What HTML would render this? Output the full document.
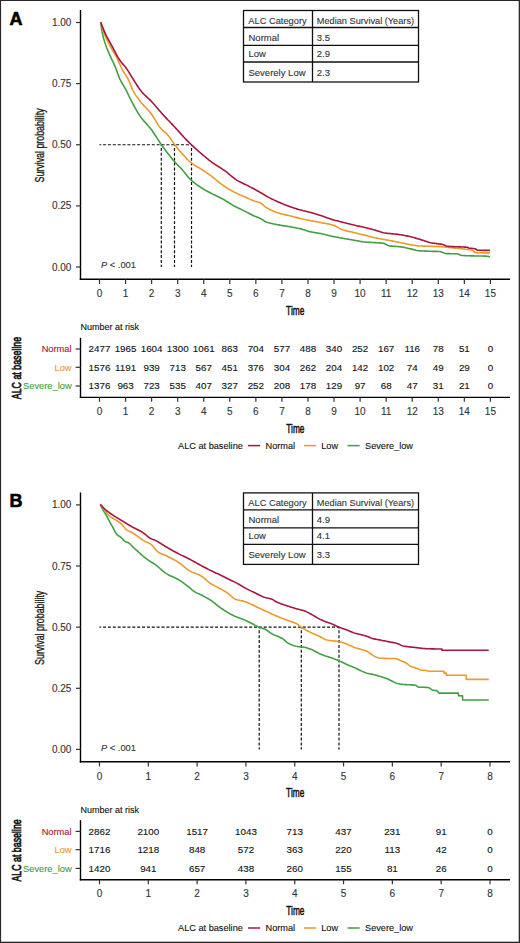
<!DOCTYPE html>
<html><head><meta charset="utf-8"><style>
html,body{margin:0;padding:0;background:#fff;}
body{width:520px;height:943px;overflow:hidden;}
svg{display:block;font-family:"Liberation Sans", sans-serif;}
</style></head><body>
<svg width="520" height="943" viewBox="0 0 520 943">
<rect x="0" y="0" width="520" height="943" fill="#fff"/>
<text x="9.6" y="24.8" font-size="18" font-weight="bold" fill="#000" stroke="#000" stroke-width="0.6">A</text>
<line x1="80.5" y1="10" x2="80.5" y2="280" stroke="#000" stroke-width="1.4"/>
<line x1="79.8" y1="279.3" x2="510" y2="279.3" stroke="#000" stroke-width="1.4"/>
<line x1="76" y1="22.5" x2="80.5" y2="22.5" stroke="#333" stroke-width="1.2"/>
<text x="71.4" y="26" font-size="10" text-anchor="end" fill="#333333" stroke="#333333" stroke-width="0.12">1.00</text>
<line x1="76" y1="83.6" x2="80.5" y2="83.6" stroke="#333" stroke-width="1.2"/>
<text x="71.4" y="87.1" font-size="10" text-anchor="end" fill="#333333" stroke="#333333" stroke-width="0.12">0.75</text>
<line x1="76" y1="144.75" x2="80.5" y2="144.75" stroke="#333" stroke-width="1.2"/>
<text x="71.4" y="148.25" font-size="10" text-anchor="end" fill="#333333" stroke="#333333" stroke-width="0.12">0.50</text>
<line x1="76" y1="205.9" x2="80.5" y2="205.9" stroke="#333" stroke-width="1.2"/>
<text x="71.4" y="209.4" font-size="10" text-anchor="end" fill="#333333" stroke="#333333" stroke-width="0.12">0.25</text>
<line x1="76" y1="267" x2="80.5" y2="267" stroke="#333" stroke-width="1.2"/>
<text x="71.4" y="270.5" font-size="10" text-anchor="end" fill="#333333" stroke="#333333" stroke-width="0.12">0.00</text>
<line x1="99.5" y1="279.3" x2="99.5" y2="284" stroke="#333" stroke-width="1.2"/>
<text x="99.5" y="297.1" font-size="10" text-anchor="middle" fill="#333333" stroke="#333333" stroke-width="0.12">0</text>
<line x1="125.56" y1="279.3" x2="125.56" y2="284" stroke="#333" stroke-width="1.2"/>
<text x="125.56" y="297.1" font-size="10" text-anchor="middle" fill="#333333" stroke="#333333" stroke-width="0.12">1</text>
<line x1="151.62" y1="279.3" x2="151.62" y2="284" stroke="#333" stroke-width="1.2"/>
<text x="151.62" y="297.1" font-size="10" text-anchor="middle" fill="#333333" stroke="#333333" stroke-width="0.12">2</text>
<line x1="177.68" y1="279.3" x2="177.68" y2="284" stroke="#333" stroke-width="1.2"/>
<text x="177.68" y="297.1" font-size="10" text-anchor="middle" fill="#333333" stroke="#333333" stroke-width="0.12">3</text>
<line x1="203.74" y1="279.3" x2="203.74" y2="284" stroke="#333" stroke-width="1.2"/>
<text x="203.74" y="297.1" font-size="10" text-anchor="middle" fill="#333333" stroke="#333333" stroke-width="0.12">4</text>
<line x1="229.8" y1="279.3" x2="229.8" y2="284" stroke="#333" stroke-width="1.2"/>
<text x="229.8" y="297.1" font-size="10" text-anchor="middle" fill="#333333" stroke="#333333" stroke-width="0.12">5</text>
<line x1="255.86" y1="279.3" x2="255.86" y2="284" stroke="#333" stroke-width="1.2"/>
<text x="255.86" y="297.1" font-size="10" text-anchor="middle" fill="#333333" stroke="#333333" stroke-width="0.12">6</text>
<line x1="281.92" y1="279.3" x2="281.92" y2="284" stroke="#333" stroke-width="1.2"/>
<text x="281.92" y="297.1" font-size="10" text-anchor="middle" fill="#333333" stroke="#333333" stroke-width="0.12">7</text>
<line x1="307.98" y1="279.3" x2="307.98" y2="284" stroke="#333" stroke-width="1.2"/>
<text x="307.98" y="297.1" font-size="10" text-anchor="middle" fill="#333333" stroke="#333333" stroke-width="0.12">8</text>
<line x1="334.04" y1="279.3" x2="334.04" y2="284" stroke="#333" stroke-width="1.2"/>
<text x="334.04" y="297.1" font-size="10" text-anchor="middle" fill="#333333" stroke="#333333" stroke-width="0.12">9</text>
<line x1="360.1" y1="279.3" x2="360.1" y2="284" stroke="#333" stroke-width="1.2"/>
<text x="360.1" y="297.1" font-size="10" text-anchor="middle" fill="#333333" stroke="#333333" stroke-width="0.12">10</text>
<line x1="386.16" y1="279.3" x2="386.16" y2="284" stroke="#333" stroke-width="1.2"/>
<text x="386.16" y="297.1" font-size="10" text-anchor="middle" fill="#333333" stroke="#333333" stroke-width="0.12">11</text>
<line x1="412.22" y1="279.3" x2="412.22" y2="284" stroke="#333" stroke-width="1.2"/>
<text x="412.22" y="297.1" font-size="10" text-anchor="middle" fill="#333333" stroke="#333333" stroke-width="0.12">12</text>
<line x1="438.28" y1="279.3" x2="438.28" y2="284" stroke="#333" stroke-width="1.2"/>
<text x="438.28" y="297.1" font-size="10" text-anchor="middle" fill="#333333" stroke="#333333" stroke-width="0.12">13</text>
<line x1="464.34" y1="279.3" x2="464.34" y2="284" stroke="#333" stroke-width="1.2"/>
<text x="464.34" y="297.1" font-size="10" text-anchor="middle" fill="#333333" stroke="#333333" stroke-width="0.12">14</text>
<line x1="490.4" y1="279.3" x2="490.4" y2="284" stroke="#333" stroke-width="1.2"/>
<text x="490.4" y="297.1" font-size="10" text-anchor="middle" fill="#333333" stroke="#333333" stroke-width="0.12">15</text>
<text transform="translate(295.2 314.7) scale(0.64 1)" font-size="13" text-anchor="middle" fill="#111" stroke="#111" stroke-width="0.55">Time</text>
<text transform="translate(43.8 145.4) rotate(-90) scale(0.68 1)" font-size="13" text-anchor="middle" fill="#1a1a1a" stroke="#1a1a1a" stroke-width="0.35">Survival probability</text>
<line x1="99.5" y1="144.75" x2="191.5" y2="144.75" stroke="#111" stroke-width="1.2" stroke-dasharray="3 1.87" stroke-dashoffset="1.3"/>
<line x1="161.3" y1="144.75" x2="161.3" y2="267" stroke="#111" stroke-width="1.2" stroke-dasharray="3 1.87" stroke-dashoffset="1.65"/>
<line x1="174.5" y1="144.75" x2="174.5" y2="267" stroke="#111" stroke-width="1.2" stroke-dasharray="3 1.87" stroke-dashoffset="1.65"/>
<line x1="191.5" y1="144.75" x2="191.5" y2="267" stroke="#111" stroke-width="1.2" stroke-dasharray="3 1.87" stroke-dashoffset="1.65"/>
<path d="M100.7 22.3 L101.7 29.93 L102.7 34.84 L103.7 38.69 L104.7 42 L105.7 45.02 L106.7 47.73 L107.7 50.23 L108.7 52.62 L109.7 54.97 L110.7 57.2 L111.7 59.31 L112.7 61.37 L113.7 63.44 L114.7 65.62 L115.7 67.98 L116.7 70.62 L117.7 73.41 L118.7 76.14 L119.7 78.62 L120.7 80.7 L121.7 82.52 L122.7 84.19 L123.7 85.83 L124.7 87.55 L125.7 89.43 L126.7 91.41 L127.7 93.45 L128.7 95.52 L129.7 97.57 L130.7 99.58 L131.7 101.5 L132.7 103.37 L133.7 105.25 L134.7 107.11 L135.7 108.93 L136.7 110.7 L137.7 112.41 L138.7 114.04 L139.7 115.56 L140.7 116.98 L141.7 118.3 L142.7 119.55 L143.7 120.73 L144.7 121.87 L145.7 122.98 L146.7 124.09 L147.7 125.2 L148.7 126.34 L149.7 127.52 L150.7 128.75 L151.7 130.07 L152.7 131.47 L153.7 132.94 L154.7 134.47 L155.7 136.03 L156.7 137.61 L157.7 139.19 L158.7 140.75 L159.7 142.27 L160.7 143.75 L161.7 145.16 L162.7 146.54 L163.7 147.92 L164.7 149.27 L165.7 150.62 L166.7 151.94 L167.7 153.25 L168.7 154.54 L169.7 155.8 L170.7 157.05 L171.7 158.27 L172.7 159.48 L173.7 160.65 L174.7 161.79 L175.7 162.89 L176.7 163.94 L177.7 164.97 L178.7 165.99 L179.7 167.01 L180.7 168.05 L181.7 169.12 L182.7 170.23 L183.7 171.42 L184.7 172.67 L185.7 173.95 L186.7 175.23 L187.7 176.47 L188.7 177.64 L189.7 178.71 L190.7 179.66 L191.7 180.57 L192.7 181.44 L193.7 182.27 L194.7 183.08 L195.7 183.85 L196.7 184.6 L197.7 185.33 L198.7 186.03 L199.7 186.71 L200.7 187.38 L201.7 188.03 L202.7 188.66 L203.7 189.26 L204.7 189.85 L205.7 190.41 L206.7 190.96 L207.7 191.5 L208.7 192.03 L209.7 192.56 L210.7 193.08 L211.7 193.6 L212.7 194.12 L213.7 194.61 L214.7 195.09 L215.7 195.57 L216.7 196.04 L217.7 196.51 L218.7 196.98 L219.7 197.46 L220.7 197.95 L221.7 198.46 L222.7 198.98 L223.7 199.53 L224.7 200.11 L225.7 200.72 L226.7 201.34 L227.7 201.98 L228.7 202.62 L229.7 203.26 L230.7 203.9 L231.7 204.52 L232.7 205.13 L233.7 205.71 L234.7 206.25 L235.7 206.77 L236.7 207.26 L237.7 207.73 L238.7 208.2 L239.7 208.67 L240.7 209.15 L241.7 209.64 L242.7 210.14 L243.7 210.65 L244.7 211.15 L245.7 211.65 L246.7 212.15 L247.7 212.66 L248.7 213.18 L249.7 213.7 L250.7 214.22 L251.7 214.73 L252.7 215.23 L253.7 215.71 L254.7 216.17 L255.7 216.59 L256.7 216.98 L257.7 217.36 L258.7 217.74 L259.7 218.16 L260.7 218.66 L261.7 219.27 L262.7 219.93 L263.7 220.6 L264.7 221.23 L265.7 221.77 L266.7 222.17 L267.7 222.49 L268.7 222.79 L269.7 223.06 L270.7 223.31 L271.7 223.54 L272.7 223.76 L273.7 223.96 L274.7 224.16 L275.7 224.35 L276.7 224.53 L277.7 224.72 L278.7 224.91 L279.7 225.09 L280.7 225.27 L281.7 225.43 L282.7 225.59 L283.7 225.75 L284.7 225.9 L285.7 226.05 L286.7 226.21 L287.7 226.37 L288.7 226.54 L289.7 226.72 L290.7 226.9 L291.7 227.08 L292.7 227.26 L293.7 227.44 L294.7 227.63 L295.7 227.82 L296.7 228.01 L297.7 228.22 L298.7 228.43 L299.7 228.65 L300.7 228.88 L301.7 229.13 L302.7 229.41 L303.7 229.73 L304.7 230.06 L305.7 230.4 L306.7 230.74 L307.7 231.07 L308.7 231.37 L309.7 231.63 L310.7 231.85 L311.7 232.05 L312.7 232.24 L313.7 232.41 L314.7 232.57 L315.7 232.72 L316.7 232.88 L317.7 233.03 L318.7 233.19 L319.7 233.36 L320.7 233.54 L321.7 233.74 L322.7 233.96 L323.7 234.19 L324.7 234.43 L325.7 234.68 L326.7 234.94 L327.7 235.2 L328.7 235.45 L329.7 235.71 L330.7 235.96 L331.7 236.19 L332.7 236.42 L333.7 236.62 L334.7 236.82 L335.7 237.02 L336.7 237.2 L337.7 237.39 L338.7 237.57 L339.7 237.74 L340.7 237.92 L341.7 238.09 L342.7 238.27 L343.7 238.44 L344.7 238.62 L345.7 238.79 L346.7 238.97 L347.7 239.14 L348.7 239.32 L349.7 239.49 L350.7 239.66 L351.7 239.83 L352.7 240 L353.7 240.17 L354.7 240.34 L355.7 240.51 L356.7 240.69 L357.7 240.88 L358.7 241.07 L359.7 241.27 L360.7 241.47 L361.7 241.65 L362.7 241.82 L363.7 241.96 L364.7 242.07 L365.7 242.15 L366.7 242.22 L367.7 242.28 L368.7 242.33 L369.7 242.38 L370.7 242.42 L371.7 242.46 L372.7 242.5 L373.7 242.55 L374.7 242.6 L375.7 242.65 L376.7 242.71 L377.7 242.78 L378.7 242.84 L379.7 242.91 L380.7 242.98 L381.7 243.08 L382.7 243.19 L383.7 243.34 L384.7 243.68 L385.7 244.21 L386.7 244.82 L387.7 245.38 L388.7 245.79 L389.7 245.97 L390.7 246.08 L391.7 246.17 L392.7 246.24 L393.7 246.3 L394.7 246.36 L395.7 246.41 L396.7 246.46 L397.7 246.53 L398.7 246.61 L399.7 246.71 L400.7 246.84 L401.7 246.99 L402.7 247.16 L403.7 247.35 L404.7 247.55 L405.7 247.77 L406.7 247.99 L407.7 248.22 L408.7 248.45 L409.7 248.67 L410.7 248.89 L411.7 249.11 L412.7 249.36 L413.7 249.63 L414.7 249.9 L415.7 250.17 L416.7 250.41 L417.7 250.61 L418.7 250.75 L419.7 250.84 L420.7 250.9 L421.7 250.96 L422.7 251.01 L423.7 251.05 L424.7 251.09 L425.7 251.13 L426.7 251.16 L427.7 251.19 L428.7 251.22 L429.7 251.25 L430.7 251.28 L431.7 251.31 L432.7 251.33 L433.7 251.35 L434.7 251.37 L435.7 251.39 L436.7 251.41 L437.7 251.43 L438.7 251.46 L439.7 251.51 L440.7 251.67 L441.7 252 L442.7 252.41 L443.7 252.84 L444.7 253.23 L445.7 253.5 L446.7 253.61 L447.7 253.64 L448.7 253.66 L449.7 253.67 L450.7 253.68 L451.7 253.69 L452.7 253.7 L453.7 253.71 L454.7 253.72 L455.7 253.74 L456.7 253.76 L457.7 253.8 L458.7 254.17 L459.7 254.83 L460.7 255.21 L461.7 255.34 L462.7 255.44 L463.7 255.53 L464.7 255.6 L465.7 255.65 L466.7 255.7 L467.7 255.74 L468.7 255.78 L469.7 255.82 L470.7 255.85 L471.7 255.87 L472.7 255.9 L473.7 255.91 L474.7 255.93 L475.7 255.94 L476.7 255.96 L477.7 255.97 L478.7 255.98 L479.7 256 L480.7 256.01 L481.7 256.03 L482.7 256.06 L483.7 256.09 L484.7 256.12 L485.7 256.16 L486.7 256.21 L487.7 256.35 L488.7 256.58 L489.7 256.83 L490 256.9" fill="none" stroke="#40a042" stroke-width="1.6" stroke-linejoin="round"/>
<path d="M100.7 22.3 L101.7 25.86 L102.7 29.18 L103.7 32.13 L104.7 34.71 L105.7 37.07 L106.7 39.26 L107.7 41.34 L108.7 43.33 L109.7 45.29 L110.7 47.15 L111.7 48.89 L112.7 50.57 L113.7 52.21 L114.7 53.88 L115.7 55.61 L116.7 57.43 L117.7 59.42 L118.7 61.63 L119.7 63.96 L120.7 66.26 L121.7 68.41 L122.7 70.3 L123.7 72 L124.7 73.6 L125.7 75.15 L126.7 76.74 L127.7 78.43 L128.7 80.3 L129.7 82.52 L130.7 85.07 L131.7 87.67 L132.7 90 L133.7 91.89 L134.7 93.58 L135.7 95.14 L136.7 96.59 L137.7 97.97 L138.7 99.3 L139.7 100.61 L140.7 101.89 L141.7 103.11 L142.7 104.26 L143.7 105.36 L144.7 106.44 L145.7 107.5 L146.7 108.57 L147.7 109.65 L148.7 110.76 L149.7 111.93 L150.7 113.16 L151.7 114.47 L152.7 115.93 L153.7 117.53 L154.7 119.2 L155.7 120.91 L156.7 122.6 L157.7 124.21 L158.7 125.71 L159.7 127.02 L160.7 128.18 L161.7 129.23 L162.7 130.2 L163.7 131.13 L164.7 132.04 L165.7 132.95 L166.7 133.91 L167.7 134.95 L168.7 136.08 L169.7 137.37 L170.7 138.8 L171.7 140.33 L172.7 141.87 L173.7 143.36 L174.7 144.73 L175.7 146.02 L176.7 147.28 L177.7 148.51 L178.7 149.71 L179.7 150.89 L180.7 152.05 L181.7 153.19 L182.7 154.31 L183.7 155.41 L184.7 156.49 L185.7 157.57 L186.7 158.63 L187.7 159.7 L188.7 160.72 L189.7 161.65 L190.7 162.46 L191.7 163.21 L192.7 163.92 L193.7 164.58 L194.7 165.22 L195.7 165.84 L196.7 166.44 L197.7 167.04 L198.7 167.64 L199.7 168.25 L200.7 168.88 L201.7 169.53 L202.7 170.2 L203.7 170.86 L204.7 171.52 L205.7 172.18 L206.7 172.85 L207.7 173.53 L208.7 174.21 L209.7 174.91 L210.7 175.62 L211.7 176.35 L212.7 177.1 L213.7 177.89 L214.7 178.7 L215.7 179.53 L216.7 180.37 L217.7 181.2 L218.7 182.03 L219.7 182.85 L220.7 183.64 L221.7 184.4 L222.7 185.12 L223.7 185.81 L224.7 186.48 L225.7 187.13 L226.7 187.77 L227.7 188.39 L228.7 189 L229.7 189.6 L230.7 190.18 L231.7 190.75 L232.7 191.3 L233.7 191.83 L234.7 192.35 L235.7 192.85 L236.7 193.34 L237.7 193.8 L238.7 194.26 L239.7 194.7 L240.7 195.14 L241.7 195.57 L242.7 195.99 L243.7 196.42 L244.7 196.85 L245.7 197.28 L246.7 197.72 L247.7 198.18 L248.7 198.65 L249.7 199.12 L250.7 199.58 L251.7 200.03 L252.7 200.45 L253.7 200.85 L254.7 201.2 L255.7 201.5 L256.7 201.74 L257.7 201.96 L258.7 202.21 L259.7 202.54 L260.7 203.06 L261.7 203.78 L262.7 204.62 L263.7 205.51 L264.7 206.39 L265.7 207.18 L266.7 207.81 L267.7 208.37 L268.7 208.91 L269.7 209.43 L270.7 209.92 L271.7 210.39 L272.7 210.84 L273.7 211.27 L274.7 211.68 L275.7 212.06 L276.7 212.43 L277.7 212.77 L278.7 213.09 L279.7 213.39 L280.7 213.67 L281.7 213.93 L282.7 214.18 L283.7 214.42 L284.7 214.65 L285.7 214.88 L286.7 215.11 L287.7 215.34 L288.7 215.58 L289.7 215.83 L290.7 216.08 L291.7 216.33 L292.7 216.59 L293.7 216.84 L294.7 217.1 L295.7 217.36 L296.7 217.61 L297.7 217.86 L298.7 218.1 L299.7 218.35 L300.7 218.58 L301.7 218.82 L302.7 219.04 L303.7 219.27 L304.7 219.49 L305.7 219.71 L306.7 219.92 L307.7 220.13 L308.7 220.34 L309.7 220.54 L310.7 220.74 L311.7 220.93 L312.7 221.11 L313.7 221.29 L314.7 221.47 L315.7 221.64 L316.7 221.82 L317.7 221.99 L318.7 222.17 L319.7 222.36 L320.7 222.54 L321.7 222.74 L322.7 222.93 L323.7 223.12 L324.7 223.3 L325.7 223.49 L326.7 223.68 L327.7 223.88 L328.7 224.09 L329.7 224.31 L330.7 224.55 L331.7 224.8 L332.7 225.08 L333.7 225.4 L334.7 225.8 L335.7 226.28 L336.7 226.81 L337.7 227.36 L338.7 227.92 L339.7 228.45 L340.7 228.95 L341.7 229.38 L342.7 229.73 L343.7 230.05 L344.7 230.35 L345.7 230.63 L346.7 230.89 L347.7 231.14 L348.7 231.38 L349.7 231.61 L350.7 231.84 L351.7 232.07 L352.7 232.29 L353.7 232.51 L354.7 232.74 L355.7 232.98 L356.7 233.22 L357.7 233.46 L358.7 233.7 L359.7 233.94 L360.7 234.17 L361.7 234.41 L362.7 234.65 L363.7 234.88 L364.7 235.13 L365.7 235.37 L366.7 235.63 L367.7 235.89 L368.7 236.15 L369.7 236.42 L370.7 236.69 L371.7 236.95 L372.7 237.21 L373.7 237.46 L374.7 237.7 L375.7 237.93 L376.7 238.14 L377.7 238.34 L378.7 238.54 L379.7 238.72 L380.7 238.9 L381.7 239.08 L382.7 239.25 L383.7 239.42 L384.7 239.59 L385.7 239.76 L386.7 239.94 L387.7 240.12 L388.7 240.31 L389.7 240.51 L390.7 240.7 L391.7 240.9 L392.7 241.1 L393.7 241.31 L394.7 241.51 L395.7 241.71 L396.7 241.92 L397.7 242.12 L398.7 242.32 L399.7 242.52 L400.7 242.72 L401.7 242.93 L402.7 243.14 L403.7 243.35 L404.7 243.56 L405.7 243.77 L406.7 243.97 L407.7 244.17 L408.7 244.36 L409.7 244.55 L410.7 244.72 L411.7 244.88 L412.7 245.05 L413.7 245.22 L414.7 245.38 L415.7 245.54 L416.7 245.69 L417.7 245.81 L418.7 245.91 L419.7 245.98 L420.7 246.03 L421.7 246.07 L422.7 246.1 L423.7 246.12 L424.7 246.14 L425.7 246.16 L426.7 246.18 L427.7 246.2 L428.7 246.22 L429.7 246.25 L430.7 246.27 L431.7 246.31 L432.7 246.34 L433.7 246.38 L434.7 246.43 L435.7 246.47 L436.7 246.52 L437.7 246.57 L438.7 246.63 L439.7 246.68 L440.7 246.74 L441.7 246.81 L442.7 246.87 L443.7 246.94 L444.7 247.02 L445.7 247.12 L446.7 247.21 L447.7 247.32 L448.7 247.43 L449.7 247.54 L450.7 247.66 L451.7 247.77 L452.7 247.89 L453.7 248 L454.7 248.11 L455.7 248.21 L456.7 248.31 L457.7 248.4 L458.7 248.5 L459.7 248.59 L460.7 248.68 L461.7 248.77 L462.7 248.87 L463.7 248.97 L464.7 249.08 L465.7 249.2 L466.7 249.33 L467.7 249.47 L468.7 249.62 L469.7 249.78 L470.7 249.97 L471.7 250.21 L472.7 250.54 L473.7 251.27 L474.7 252.48 L475.7 252.64 L476.7 252.68 L477.7 252.72 L478.7 252.76 L479.7 252.79 L480.7 252.81 L481.7 252.83 L482.7 252.85 L483.7 252.87 L484.7 252.88 L485.7 252.89 L486.7 252.89 L487.7 252.9 L488.7 252.9 L489.7 252.9 L490 252.9" fill="none" stroke="#eb9a2c" stroke-width="1.6" stroke-linejoin="round"/>
<path d="M100.7 22.3 L101.7 24.89 L102.7 27.4 L103.7 29.82 L104.7 32.12 L105.7 34.3 L106.7 36.35 L107.7 38.28 L108.7 40.13 L109.7 41.94 L110.7 43.72 L111.7 45.52 L112.7 47.36 L113.7 49.27 L114.7 51.21 L115.7 53.15 L116.7 55.04 L117.7 56.84 L118.7 58.52 L119.7 60.04 L120.7 61.41 L121.7 62.68 L122.7 63.88 L123.7 65.06 L124.7 66.26 L125.7 67.51 L126.7 68.86 L127.7 70.32 L128.7 71.87 L129.7 73.49 L130.7 75.14 L131.7 76.79 L132.7 78.42 L133.7 80 L134.7 81.56 L135.7 83.15 L136.7 84.74 L137.7 86.3 L138.7 87.81 L139.7 89.24 L140.7 90.58 L141.7 91.79 L142.7 92.92 L143.7 93.97 L144.7 94.97 L145.7 95.93 L146.7 96.86 L147.7 97.79 L148.7 98.72 L149.7 99.67 L150.7 100.67 L151.7 101.71 L152.7 102.8 L153.7 103.92 L154.7 105.07 L155.7 106.23 L156.7 107.4 L157.7 108.58 L158.7 109.76 L159.7 110.93 L160.7 112.09 L161.7 113.24 L162.7 114.36 L163.7 115.45 L164.7 116.53 L165.7 117.6 L166.7 118.65 L167.7 119.69 L168.7 120.73 L169.7 121.76 L170.7 122.8 L171.7 123.84 L172.7 124.89 L173.7 125.94 L174.7 127.01 L175.7 128.09 L176.7 129.19 L177.7 130.3 L178.7 131.41 L179.7 132.53 L180.7 133.65 L181.7 134.76 L182.7 135.87 L183.7 136.96 L184.7 138.03 L185.7 139.08 L186.7 140.11 L187.7 141.12 L188.7 142.1 L189.7 143.07 L190.7 144.03 L191.7 144.98 L192.7 145.92 L193.7 146.85 L194.7 147.77 L195.7 148.68 L196.7 149.59 L197.7 150.49 L198.7 151.37 L199.7 152.25 L200.7 153.12 L201.7 153.97 L202.7 154.82 L203.7 155.66 L204.7 156.5 L205.7 157.33 L206.7 158.15 L207.7 158.96 L208.7 159.76 L209.7 160.55 L210.7 161.32 L211.7 162.07 L212.7 162.81 L213.7 163.53 L214.7 164.21 L215.7 164.87 L216.7 165.52 L217.7 166.15 L218.7 166.77 L219.7 167.39 L220.7 168.02 L221.7 168.65 L222.7 169.3 L223.7 169.97 L224.7 170.67 L225.7 171.41 L226.7 172.19 L227.7 173 L228.7 173.83 L229.7 174.67 L230.7 175.51 L231.7 176.35 L232.7 177.17 L233.7 177.96 L234.7 178.72 L235.7 179.42 L236.7 180.08 L237.7 180.67 L238.7 181.23 L239.7 181.76 L240.7 182.27 L241.7 182.75 L242.7 183.22 L243.7 183.69 L244.7 184.15 L245.7 184.62 L246.7 185.1 L247.7 185.59 L248.7 186.1 L249.7 186.63 L250.7 187.16 L251.7 187.69 L252.7 188.23 L253.7 188.77 L254.7 189.32 L255.7 189.87 L256.7 190.43 L257.7 190.99 L258.7 191.56 L259.7 192.13 L260.7 192.71 L261.7 193.31 L262.7 193.93 L263.7 194.55 L264.7 195.16 L265.7 195.75 L266.7 196.31 L267.7 196.85 L268.7 197.38 L269.7 197.9 L270.7 198.41 L271.7 198.91 L272.7 199.4 L273.7 199.88 L274.7 200.35 L275.7 200.82 L276.7 201.27 L277.7 201.72 L278.7 202.16 L279.7 202.6 L280.7 203.02 L281.7 203.44 L282.7 203.86 L283.7 204.26 L284.7 204.66 L285.7 205.05 L286.7 205.44 L287.7 205.81 L288.7 206.18 L289.7 206.54 L290.7 206.89 L291.7 207.24 L292.7 207.58 L293.7 207.91 L294.7 208.24 L295.7 208.57 L296.7 208.88 L297.7 209.19 L298.7 209.49 L299.7 209.78 L300.7 210.06 L301.7 210.33 L302.7 210.59 L303.7 210.82 L304.7 211.05 L305.7 211.28 L306.7 211.5 L307.7 211.73 L308.7 211.97 L309.7 212.22 L310.7 212.49 L311.7 212.77 L312.7 213.05 L313.7 213.35 L314.7 213.65 L315.7 213.95 L316.7 214.26 L317.7 214.58 L318.7 214.9 L319.7 215.22 L320.7 215.54 L321.7 215.86 L322.7 216.2 L323.7 216.55 L324.7 216.9 L325.7 217.26 L326.7 217.63 L327.7 217.99 L328.7 218.35 L329.7 218.7 L330.7 219.04 L331.7 219.37 L332.7 219.68 L333.7 219.97 L334.7 220.25 L335.7 220.52 L336.7 220.78 L337.7 221.03 L338.7 221.27 L339.7 221.51 L340.7 221.75 L341.7 221.99 L342.7 222.23 L343.7 222.48 L344.7 222.73 L345.7 222.98 L346.7 223.23 L347.7 223.49 L348.7 223.74 L349.7 224 L350.7 224.26 L351.7 224.51 L352.7 224.76 L353.7 225 L354.7 225.25 L355.7 225.48 L356.7 225.71 L357.7 225.93 L358.7 226.15 L359.7 226.36 L360.7 226.56 L361.7 226.77 L362.7 226.98 L363.7 227.2 L364.7 227.43 L365.7 227.67 L366.7 227.92 L367.7 228.18 L368.7 228.44 L369.7 228.71 L370.7 228.98 L371.7 229.26 L372.7 229.54 L373.7 229.82 L374.7 230.1 L375.7 230.38 L376.7 230.66 L377.7 230.95 L378.7 231.27 L379.7 231.59 L380.7 231.91 L381.7 232.21 L382.7 232.49 L383.7 232.73 L384.7 232.92 L385.7 233.08 L386.7 233.22 L387.7 233.34 L388.7 233.46 L389.7 233.56 L390.7 233.66 L391.7 233.76 L392.7 233.85 L393.7 233.94 L394.7 234.03 L395.7 234.13 L396.7 234.24 L397.7 234.35 L398.7 234.47 L399.7 234.61 L400.7 234.77 L401.7 234.93 L402.7 235.1 L403.7 235.29 L404.7 235.48 L405.7 235.68 L406.7 235.89 L407.7 236.1 L408.7 236.32 L409.7 236.55 L410.7 236.78 L411.7 237.02 L412.7 237.27 L413.7 237.54 L414.7 237.82 L415.7 238.12 L416.7 238.41 L417.7 238.71 L418.7 239.01 L419.7 239.31 L420.7 239.61 L421.7 239.93 L422.7 240.26 L423.7 240.59 L424.7 240.93 L425.7 241.27 L426.7 241.6 L427.7 241.92 L428.7 242.21 L429.7 242.49 L430.7 242.73 L431.7 242.94 L432.7 243.12 L433.7 243.27 L434.7 243.41 L435.7 243.53 L436.7 243.64 L437.7 243.76 L438.7 243.88 L439.7 244.01 L440.7 244.15 L441.7 244.32 L442.7 244.51 L443.7 244.77 L444.7 245.19 L445.7 245.66 L446.7 246.07 L447.7 246.3 L448.7 246.39 L449.7 246.47 L450.7 246.52 L451.7 246.57 L452.7 246.61 L453.7 246.66 L454.7 246.71 L455.7 246.75 L456.7 246.79 L457.7 246.82 L458.7 246.85 L459.7 246.88 L460.7 246.91 L461.7 246.94 L462.7 246.98 L463.7 247.03 L464.7 247.08 L465.7 247.15 L466.7 247.24 L467.7 247.4 L468.7 247.92 L469.7 248.19 L470.7 248.31 L471.7 248.4 L472.7 248.47 L473.7 248.56 L474.7 248.69 L475.7 249.04 L476.7 249.7 L477.7 250.18 L478.7 250.23 L479.7 250.26 L480.7 250.29 L481.7 250.32 L482.7 250.34 L483.7 250.36 L484.7 250.37 L485.7 250.38 L486.7 250.39 L487.7 250.4 L488.7 250.4 L489.7 250.4 L490 250.4" fill="none" stroke="#a8163c" stroke-width="1.6" stroke-linejoin="round"/>
<text x="101" y="268.2" font-size="9.3" fill="#333333" stroke="#333333" stroke-width="0.12"><tspan font-style="italic">P</tspan> &lt; .001</text>
<rect x="243.5" y="10.5" width="175" height="71.5" fill="#fff" stroke="#111" stroke-width="1.3"/>
<line x1="243.5" y1="27.5" x2="418.5" y2="27.5" stroke="#111" stroke-width="1.3"/>
<line x1="243.5" y1="45.4" x2="418.5" y2="45.4" stroke="#111" stroke-width="1.3"/>
<line x1="243.5" y1="62" x2="418.5" y2="62" stroke="#111" stroke-width="1.3"/>
<line x1="312.5" y1="10.5" x2="312.5" y2="82" stroke="#111" stroke-width="1.3"/>
<text transform="translate(248.3 23.8) scale(0.94 1)" font-size="9.9" fill="#333333" stroke="#333333" stroke-width="0.12">ALC Category</text>
<text transform="translate(316.8 23.8) scale(0.93 1)" font-size="9.9" fill="#333333" stroke="#333333" stroke-width="0.12">Median Survival (Years)</text>
<text x="248.5" y="40.5" font-size="9.5" fill="#333333" stroke="#333333" stroke-width="0.12">Normal</text>
<text x="316.8" y="40.5" font-size="9.5" fill="#333333" stroke="#333333" stroke-width="0.12">3.5</text>
<text x="248.5" y="56.6" font-size="9.5" fill="#333333" stroke="#333333" stroke-width="0.12">Low</text>
<text x="316.8" y="56.6" font-size="9.5" fill="#333333" stroke="#333333" stroke-width="0.12">2.9</text>
<text x="248.5" y="75.9" font-size="9.5" fill="#333333" stroke="#333333" stroke-width="0.12">Severely Low</text>
<text x="316.8" y="75.9" font-size="9.5" fill="#333333" stroke="#333333" stroke-width="0.12">2.3</text>
<text x="80.6" y="330.4" font-size="9" fill="#111" stroke="#111" stroke-width="0.12">Number at risk</text>
<line x1="80.5" y1="337.8" x2="80.5" y2="398" stroke="#000" stroke-width="1.4"/>
<line x1="79.8" y1="397.4" x2="510" y2="397.4" stroke="#000" stroke-width="1.4"/>
<line x1="75.6" y1="349" x2="80.5" y2="349" stroke="#333" stroke-width="1.2"/>
<text x="71.6" y="352.2" font-size="9.3" text-anchor="end" fill="#a8163c" stroke="#a8163c" stroke-width="0.12">Normal</text>
<text x="99.5" y="352.3" font-size="9.8" text-anchor="middle" fill="#111" stroke="#111" stroke-width="0.12">2477</text>
<text x="125.56" y="352.3" font-size="9.8" text-anchor="middle" fill="#111" stroke="#111" stroke-width="0.12">1965</text>
<text x="151.62" y="352.3" font-size="9.8" text-anchor="middle" fill="#111" stroke="#111" stroke-width="0.12">1604</text>
<text x="177.68" y="352.3" font-size="9.8" text-anchor="middle" fill="#111" stroke="#111" stroke-width="0.12">1300</text>
<text x="203.74" y="352.3" font-size="9.8" text-anchor="middle" fill="#111" stroke="#111" stroke-width="0.12">1061</text>
<text x="229.8" y="352.3" font-size="9.8" text-anchor="middle" fill="#111" stroke="#111" stroke-width="0.12">863</text>
<text x="255.86" y="352.3" font-size="9.8" text-anchor="middle" fill="#111" stroke="#111" stroke-width="0.12">704</text>
<text x="281.92" y="352.3" font-size="9.8" text-anchor="middle" fill="#111" stroke="#111" stroke-width="0.12">577</text>
<text x="307.98" y="352.3" font-size="9.8" text-anchor="middle" fill="#111" stroke="#111" stroke-width="0.12">488</text>
<text x="334.04" y="352.3" font-size="9.8" text-anchor="middle" fill="#111" stroke="#111" stroke-width="0.12">340</text>
<text x="360.1" y="352.3" font-size="9.8" text-anchor="middle" fill="#111" stroke="#111" stroke-width="0.12">252</text>
<text x="386.16" y="352.3" font-size="9.8" text-anchor="middle" fill="#111" stroke="#111" stroke-width="0.12">167</text>
<text x="412.22" y="352.3" font-size="9.8" text-anchor="middle" fill="#111" stroke="#111" stroke-width="0.12">116</text>
<text x="438.28" y="352.3" font-size="9.8" text-anchor="middle" fill="#111" stroke="#111" stroke-width="0.12">78</text>
<text x="464.34" y="352.3" font-size="9.8" text-anchor="middle" fill="#111" stroke="#111" stroke-width="0.12">51</text>
<text x="490.4" y="352.3" font-size="9.8" text-anchor="middle" fill="#111" stroke="#111" stroke-width="0.12">0</text>
<line x1="75.6" y1="367.3" x2="80.5" y2="367.3" stroke="#333" stroke-width="1.2"/>
<text x="71.6" y="370.5" font-size="9.3" text-anchor="end" fill="#eb9a2c" stroke="#eb9a2c" stroke-width="0.12">Low</text>
<text x="99.5" y="370.6" font-size="9.8" text-anchor="middle" fill="#111" stroke="#111" stroke-width="0.12">1576</text>
<text x="125.56" y="370.6" font-size="9.8" text-anchor="middle" fill="#111" stroke="#111" stroke-width="0.12">1191</text>
<text x="151.62" y="370.6" font-size="9.8" text-anchor="middle" fill="#111" stroke="#111" stroke-width="0.12">939</text>
<text x="177.68" y="370.6" font-size="9.8" text-anchor="middle" fill="#111" stroke="#111" stroke-width="0.12">713</text>
<text x="203.74" y="370.6" font-size="9.8" text-anchor="middle" fill="#111" stroke="#111" stroke-width="0.12">567</text>
<text x="229.8" y="370.6" font-size="9.8" text-anchor="middle" fill="#111" stroke="#111" stroke-width="0.12">451</text>
<text x="255.86" y="370.6" font-size="9.8" text-anchor="middle" fill="#111" stroke="#111" stroke-width="0.12">376</text>
<text x="281.92" y="370.6" font-size="9.8" text-anchor="middle" fill="#111" stroke="#111" stroke-width="0.12">304</text>
<text x="307.98" y="370.6" font-size="9.8" text-anchor="middle" fill="#111" stroke="#111" stroke-width="0.12">262</text>
<text x="334.04" y="370.6" font-size="9.8" text-anchor="middle" fill="#111" stroke="#111" stroke-width="0.12">204</text>
<text x="360.1" y="370.6" font-size="9.8" text-anchor="middle" fill="#111" stroke="#111" stroke-width="0.12">142</text>
<text x="386.16" y="370.6" font-size="9.8" text-anchor="middle" fill="#111" stroke="#111" stroke-width="0.12">102</text>
<text x="412.22" y="370.6" font-size="9.8" text-anchor="middle" fill="#111" stroke="#111" stroke-width="0.12">74</text>
<text x="438.28" y="370.6" font-size="9.8" text-anchor="middle" fill="#111" stroke="#111" stroke-width="0.12">49</text>
<text x="464.34" y="370.6" font-size="9.8" text-anchor="middle" fill="#111" stroke="#111" stroke-width="0.12">29</text>
<text x="490.4" y="370.6" font-size="9.8" text-anchor="middle" fill="#111" stroke="#111" stroke-width="0.12">0</text>
<line x1="75.6" y1="386" x2="80.5" y2="386" stroke="#333" stroke-width="1.2"/>
<text x="71.6" y="389.2" font-size="9.3" text-anchor="end" fill="#40a042" stroke="#40a042" stroke-width="0.12">Severe_low</text>
<text x="99.5" y="389.3" font-size="9.8" text-anchor="middle" fill="#111" stroke="#111" stroke-width="0.12">1376</text>
<text x="125.56" y="389.3" font-size="9.8" text-anchor="middle" fill="#111" stroke="#111" stroke-width="0.12">963</text>
<text x="151.62" y="389.3" font-size="9.8" text-anchor="middle" fill="#111" stroke="#111" stroke-width="0.12">723</text>
<text x="177.68" y="389.3" font-size="9.8" text-anchor="middle" fill="#111" stroke="#111" stroke-width="0.12">535</text>
<text x="203.74" y="389.3" font-size="9.8" text-anchor="middle" fill="#111" stroke="#111" stroke-width="0.12">407</text>
<text x="229.8" y="389.3" font-size="9.8" text-anchor="middle" fill="#111" stroke="#111" stroke-width="0.12">327</text>
<text x="255.86" y="389.3" font-size="9.8" text-anchor="middle" fill="#111" stroke="#111" stroke-width="0.12">252</text>
<text x="281.92" y="389.3" font-size="9.8" text-anchor="middle" fill="#111" stroke="#111" stroke-width="0.12">208</text>
<text x="307.98" y="389.3" font-size="9.8" text-anchor="middle" fill="#111" stroke="#111" stroke-width="0.12">178</text>
<text x="334.04" y="389.3" font-size="9.8" text-anchor="middle" fill="#111" stroke="#111" stroke-width="0.12">129</text>
<text x="360.1" y="389.3" font-size="9.8" text-anchor="middle" fill="#111" stroke="#111" stroke-width="0.12">97</text>
<text x="386.16" y="389.3" font-size="9.8" text-anchor="middle" fill="#111" stroke="#111" stroke-width="0.12">68</text>
<text x="412.22" y="389.3" font-size="9.8" text-anchor="middle" fill="#111" stroke="#111" stroke-width="0.12">47</text>
<text x="438.28" y="389.3" font-size="9.8" text-anchor="middle" fill="#111" stroke="#111" stroke-width="0.12">31</text>
<text x="464.34" y="389.3" font-size="9.8" text-anchor="middle" fill="#111" stroke="#111" stroke-width="0.12">21</text>
<text x="490.4" y="389.3" font-size="9.8" text-anchor="middle" fill="#111" stroke="#111" stroke-width="0.12">0</text>
<line x1="99.5" y1="397.4" x2="99.5" y2="401.8" stroke="#333" stroke-width="1.2"/>
<text x="99.5" y="414.9" font-size="10" text-anchor="middle" fill="#333333" stroke="#333333" stroke-width="0.12">0</text>
<line x1="125.56" y1="397.4" x2="125.56" y2="401.8" stroke="#333" stroke-width="1.2"/>
<text x="125.56" y="414.9" font-size="10" text-anchor="middle" fill="#333333" stroke="#333333" stroke-width="0.12">1</text>
<line x1="151.62" y1="397.4" x2="151.62" y2="401.8" stroke="#333" stroke-width="1.2"/>
<text x="151.62" y="414.9" font-size="10" text-anchor="middle" fill="#333333" stroke="#333333" stroke-width="0.12">2</text>
<line x1="177.68" y1="397.4" x2="177.68" y2="401.8" stroke="#333" stroke-width="1.2"/>
<text x="177.68" y="414.9" font-size="10" text-anchor="middle" fill="#333333" stroke="#333333" stroke-width="0.12">3</text>
<line x1="203.74" y1="397.4" x2="203.74" y2="401.8" stroke="#333" stroke-width="1.2"/>
<text x="203.74" y="414.9" font-size="10" text-anchor="middle" fill="#333333" stroke="#333333" stroke-width="0.12">4</text>
<line x1="229.8" y1="397.4" x2="229.8" y2="401.8" stroke="#333" stroke-width="1.2"/>
<text x="229.8" y="414.9" font-size="10" text-anchor="middle" fill="#333333" stroke="#333333" stroke-width="0.12">5</text>
<line x1="255.86" y1="397.4" x2="255.86" y2="401.8" stroke="#333" stroke-width="1.2"/>
<text x="255.86" y="414.9" font-size="10" text-anchor="middle" fill="#333333" stroke="#333333" stroke-width="0.12">6</text>
<line x1="281.92" y1="397.4" x2="281.92" y2="401.8" stroke="#333" stroke-width="1.2"/>
<text x="281.92" y="414.9" font-size="10" text-anchor="middle" fill="#333333" stroke="#333333" stroke-width="0.12">7</text>
<line x1="307.98" y1="397.4" x2="307.98" y2="401.8" stroke="#333" stroke-width="1.2"/>
<text x="307.98" y="414.9" font-size="10" text-anchor="middle" fill="#333333" stroke="#333333" stroke-width="0.12">8</text>
<line x1="334.04" y1="397.4" x2="334.04" y2="401.8" stroke="#333" stroke-width="1.2"/>
<text x="334.04" y="414.9" font-size="10" text-anchor="middle" fill="#333333" stroke="#333333" stroke-width="0.12">9</text>
<line x1="360.1" y1="397.4" x2="360.1" y2="401.8" stroke="#333" stroke-width="1.2"/>
<text x="360.1" y="414.9" font-size="10" text-anchor="middle" fill="#333333" stroke="#333333" stroke-width="0.12">10</text>
<line x1="386.16" y1="397.4" x2="386.16" y2="401.8" stroke="#333" stroke-width="1.2"/>
<text x="386.16" y="414.9" font-size="10" text-anchor="middle" fill="#333333" stroke="#333333" stroke-width="0.12">11</text>
<line x1="412.22" y1="397.4" x2="412.22" y2="401.8" stroke="#333" stroke-width="1.2"/>
<text x="412.22" y="414.9" font-size="10" text-anchor="middle" fill="#333333" stroke="#333333" stroke-width="0.12">12</text>
<line x1="438.28" y1="397.4" x2="438.28" y2="401.8" stroke="#333" stroke-width="1.2"/>
<text x="438.28" y="414.9" font-size="10" text-anchor="middle" fill="#333333" stroke="#333333" stroke-width="0.12">13</text>
<line x1="464.34" y1="397.4" x2="464.34" y2="401.8" stroke="#333" stroke-width="1.2"/>
<text x="464.34" y="414.9" font-size="10" text-anchor="middle" fill="#333333" stroke="#333333" stroke-width="0.12">14</text>
<line x1="490.4" y1="397.4" x2="490.4" y2="401.8" stroke="#333" stroke-width="1.2"/>
<text x="490.4" y="414.9" font-size="10" text-anchor="middle" fill="#333333" stroke="#333333" stroke-width="0.12">15</text>
<text transform="translate(295.4 432.5) scale(0.64 1)" font-size="13" text-anchor="middle" fill="#111" stroke="#111" stroke-width="0.55">Time</text>
<text transform="translate(20.8 368) rotate(-90) scale(0.68 1)" font-size="13" text-anchor="middle" fill="#111" stroke="#111" stroke-width="0.7">ALC at baseline</text>
<text x="178" y="448.8" font-size="9.2" fill="#111" stroke="#111" stroke-width="0.12">ALC at baseline</text>
<line x1="248" y1="445.6" x2="260.2" y2="445.6" stroke="#a8163c" stroke-width="1.5"/>
<text x="265.5" y="448.8" font-size="9.2" fill="#111" stroke="#111" stroke-width="0.12">Normal</text>
<line x1="304" y1="445.6" x2="316.2" y2="445.6" stroke="#eb9a2c" stroke-width="1.5"/>
<text x="321.2" y="448.8" font-size="9.2" fill="#111" stroke="#111" stroke-width="0.12">Low</text>
<line x1="347.5" y1="445.6" x2="359.7" y2="445.6" stroke="#40a042" stroke-width="1.5"/>
<text x="365" y="448.8" font-size="9.2" fill="#111" stroke="#111" stroke-width="0.12">Severe_low</text>
<text x="9.6" y="507.2" font-size="18" font-weight="bold" fill="#000" stroke="#000" stroke-width="0.6">B</text>
<line x1="80.5" y1="492.4" x2="80.5" y2="762.4" stroke="#000" stroke-width="1.4"/>
<line x1="79.8" y1="761.7" x2="510" y2="761.7" stroke="#000" stroke-width="1.4"/>
<line x1="76" y1="504.9" x2="80.5" y2="504.9" stroke="#333" stroke-width="1.2"/>
<text x="71.4" y="508.4" font-size="10" text-anchor="end" fill="#333333" stroke="#333333" stroke-width="0.12">1.00</text>
<line x1="76" y1="566" x2="80.5" y2="566" stroke="#333" stroke-width="1.2"/>
<text x="71.4" y="569.5" font-size="10" text-anchor="end" fill="#333333" stroke="#333333" stroke-width="0.12">0.75</text>
<line x1="76" y1="627.15" x2="80.5" y2="627.15" stroke="#333" stroke-width="1.2"/>
<text x="71.4" y="630.65" font-size="10" text-anchor="end" fill="#333333" stroke="#333333" stroke-width="0.12">0.50</text>
<line x1="76" y1="688.3" x2="80.5" y2="688.3" stroke="#333" stroke-width="1.2"/>
<text x="71.4" y="691.8" font-size="10" text-anchor="end" fill="#333333" stroke="#333333" stroke-width="0.12">0.25</text>
<line x1="76" y1="749.4" x2="80.5" y2="749.4" stroke="#333" stroke-width="1.2"/>
<text x="71.4" y="752.9" font-size="10" text-anchor="end" fill="#333333" stroke="#333333" stroke-width="0.12">0.00</text>
<line x1="99.5" y1="761.7" x2="99.5" y2="766.4" stroke="#333" stroke-width="1.2"/>
<text x="99.5" y="779.5" font-size="10" text-anchor="middle" fill="#333333" stroke="#333333" stroke-width="0.12">0</text>
<line x1="148.31" y1="761.7" x2="148.31" y2="766.4" stroke="#333" stroke-width="1.2"/>
<text x="148.31" y="779.5" font-size="10" text-anchor="middle" fill="#333333" stroke="#333333" stroke-width="0.12">1</text>
<line x1="197.12" y1="761.7" x2="197.12" y2="766.4" stroke="#333" stroke-width="1.2"/>
<text x="197.12" y="779.5" font-size="10" text-anchor="middle" fill="#333333" stroke="#333333" stroke-width="0.12">2</text>
<line x1="245.93" y1="761.7" x2="245.93" y2="766.4" stroke="#333" stroke-width="1.2"/>
<text x="245.93" y="779.5" font-size="10" text-anchor="middle" fill="#333333" stroke="#333333" stroke-width="0.12">3</text>
<line x1="294.74" y1="761.7" x2="294.74" y2="766.4" stroke="#333" stroke-width="1.2"/>
<text x="294.74" y="779.5" font-size="10" text-anchor="middle" fill="#333333" stroke="#333333" stroke-width="0.12">4</text>
<line x1="343.55" y1="761.7" x2="343.55" y2="766.4" stroke="#333" stroke-width="1.2"/>
<text x="343.55" y="779.5" font-size="10" text-anchor="middle" fill="#333333" stroke="#333333" stroke-width="0.12">5</text>
<line x1="392.36" y1="761.7" x2="392.36" y2="766.4" stroke="#333" stroke-width="1.2"/>
<text x="392.36" y="779.5" font-size="10" text-anchor="middle" fill="#333333" stroke="#333333" stroke-width="0.12">6</text>
<line x1="441.17" y1="761.7" x2="441.17" y2="766.4" stroke="#333" stroke-width="1.2"/>
<text x="441.17" y="779.5" font-size="10" text-anchor="middle" fill="#333333" stroke="#333333" stroke-width="0.12">7</text>
<line x1="489.98" y1="761.7" x2="489.98" y2="766.4" stroke="#333" stroke-width="1.2"/>
<text x="489.98" y="779.5" font-size="10" text-anchor="middle" fill="#333333" stroke="#333333" stroke-width="0.12">8</text>
<text transform="translate(295.2 797.1) scale(0.64 1)" font-size="13" text-anchor="middle" fill="#111" stroke="#111" stroke-width="0.55">Time</text>
<text transform="translate(43.8 627.8) rotate(-90) scale(0.68 1)" font-size="13" text-anchor="middle" fill="#1a1a1a" stroke="#1a1a1a" stroke-width="0.35">Survival probability</text>
<line x1="99.5" y1="627.15" x2="339" y2="627.15" stroke="#111" stroke-width="1.2" stroke-dasharray="3 1.87" stroke-dashoffset="1.3"/>
<line x1="259.2" y1="627.15" x2="259.2" y2="749.4" stroke="#111" stroke-width="1.2" stroke-dasharray="3 1.87" stroke-dashoffset="1.65"/>
<line x1="301.3" y1="627.15" x2="301.3" y2="749.4" stroke="#111" stroke-width="1.2" stroke-dasharray="3 1.87" stroke-dashoffset="1.65"/>
<line x1="339" y1="627.15" x2="339" y2="749.4" stroke="#111" stroke-width="1.2" stroke-dasharray="3 1.87" stroke-dashoffset="1.65"/>
<path d="M100.3 504.4 L101.3 506.6 L102.3 508.63 L103.3 510.44 L104.3 512.07 L105.3 513.66 L106.3 515.35 L107.3 517.18 L108.3 519.05 L109.3 520.93 L110.3 522.78 L111.3 524.62 L112.3 526.44 L113.3 528.25 L114.3 530.18 L115.3 532.09 L116.3 533.74 L117.3 534.89 L118.3 535.66 L119.3 536.28 L120.3 536.9 L121.3 537.68 L122.3 538.74 L123.3 539.89 L124.3 540.85 L125.3 541.47 L126.3 541.93 L127.3 542.33 L128.3 542.78 L129.3 543.37 L130.3 544.25 L131.3 545.32 L132.3 546.4 L133.3 547.36 L134.3 548.27 L135.3 549.16 L136.3 550.04 L137.3 550.92 L138.3 551.81 L139.3 552.72 L140.3 553.64 L141.3 554.57 L142.3 555.48 L143.3 556.36 L144.3 557.18 L145.3 557.96 L146.3 558.7 L147.3 559.42 L148.3 560.12 L149.3 560.8 L150.3 561.46 L151.3 562.09 L152.3 562.69 L153.3 563.3 L154.3 563.93 L155.3 564.61 L156.3 565.36 L157.3 566.17 L158.3 567.01 L159.3 567.88 L160.3 568.77 L161.3 569.66 L162.3 570.53 L163.3 571.37 L164.3 572.17 L165.3 572.91 L166.3 573.58 L167.3 574.17 L168.3 574.72 L169.3 575.22 L170.3 575.7 L171.3 576.15 L172.3 576.6 L173.3 577.04 L174.3 577.48 L175.3 577.94 L176.3 578.43 L177.3 578.95 L178.3 579.52 L179.3 580.12 L180.3 580.76 L181.3 581.42 L182.3 582.11 L183.3 582.82 L184.3 583.55 L185.3 584.29 L186.3 585.04 L187.3 585.8 L188.3 586.6 L189.3 587.47 L190.3 588.36 L191.3 589.25 L192.3 590.11 L193.3 590.89 L194.3 591.56 L195.3 592.14 L196.3 592.67 L197.3 593.15 L198.3 593.62 L199.3 594.08 L200.3 594.55 L201.3 595.05 L202.3 595.57 L203.3 596.08 L204.3 596.6 L205.3 597.12 L206.3 597.66 L207.3 598.2 L208.3 598.77 L209.3 599.37 L210.3 599.99 L211.3 600.67 L212.3 601.39 L213.3 602.14 L214.3 602.93 L215.3 603.73 L216.3 604.54 L217.3 605.35 L218.3 606.15 L219.3 606.92 L220.3 607.66 L221.3 608.37 L222.3 609.03 L223.3 609.69 L224.3 610.34 L225.3 610.98 L226.3 611.61 L227.3 612.22 L228.3 612.82 L229.3 613.4 L230.3 613.96 L231.3 614.5 L232.3 615.01 L233.3 615.49 L234.3 615.95 L235.3 616.38 L236.3 616.78 L237.3 617.17 L238.3 617.54 L239.3 617.91 L240.3 618.28 L241.3 618.66 L242.3 619.04 L243.3 619.44 L244.3 619.87 L245.3 620.32 L246.3 620.78 L247.3 621.26 L248.3 621.75 L249.3 622.26 L250.3 622.77 L251.3 623.28 L252.3 623.8 L253.3 624.32 L254.3 624.84 L255.3 625.35 L256.3 625.85 L257.3 626.38 L258.3 626.9 L259.3 627.38 L260.3 627.75 L261.3 628.06 L262.3 628.33 L263.3 628.61 L264.3 628.93 L265.3 629.33 L266.3 629.88 L267.3 630.54 L268.3 631.28 L269.3 632.04 L270.3 632.78 L271.3 633.45 L272.3 634.01 L273.3 634.51 L274.3 634.96 L275.3 635.38 L276.3 635.78 L277.3 636.17 L278.3 636.57 L279.3 636.99 L280.3 637.44 L281.3 637.94 L282.3 638.5 L283.3 639.19 L284.3 640.04 L285.3 640.94 L286.3 641.83 L287.3 642.61 L288.3 643.2 L289.3 643.71 L290.3 644.19 L291.3 644.64 L292.3 645.06 L293.3 645.44 L294.3 645.78 L295.3 646.07 L296.3 646.32 L297.3 646.5 L298.3 646.63 L299.3 646.73 L300.3 646.81 L301.3 646.9 L302.3 647 L303.3 647.13 L304.3 647.31 L305.3 647.53 L306.3 647.79 L307.3 648.07 L308.3 648.39 L309.3 648.72 L310.3 649.07 L311.3 649.44 L312.3 649.85 L313.3 650.34 L314.3 650.87 L315.3 651.43 L316.3 652 L317.3 652.55 L318.3 653.07 L319.3 653.54 L320.3 653.98 L321.3 654.39 L322.3 654.79 L323.3 655.18 L324.3 655.55 L325.3 655.91 L326.3 656.24 L327.3 656.56 L328.3 656.87 L329.3 657.18 L330.3 657.5 L331.3 657.83 L332.3 658.18 L333.3 658.55 L334.3 658.92 L335.3 659.3 L336.3 659.69 L337.3 660.1 L338.3 660.51 L339.3 660.93 L340.3 661.37 L341.3 661.83 L342.3 662.31 L343.3 662.8 L344.3 663.29 L345.3 663.78 L346.3 664.26 L347.3 664.73 L348.3 665.18 L349.3 665.61 L350.3 666.01 L351.3 666.4 L352.3 666.79 L353.3 667.17 L354.3 667.58 L355.3 668 L356.3 668.45 L357.3 668.93 L358.3 669.42 L359.3 669.92 L360.3 670.41 L361.3 670.9 L362.3 671.37 L363.3 671.81 L364.3 672.23 L365.3 672.6 L366.3 672.93 L367.3 673.22 L368.3 673.47 L369.3 673.71 L370.3 673.93 L371.3 674.14 L372.3 674.36 L373.3 674.58 L374.3 674.82 L375.3 675.08 L376.3 675.35 L377.3 675.62 L378.3 675.9 L379.3 676.19 L380.3 676.48 L381.3 676.78 L382.3 677.09 L383.3 677.4 L384.3 677.73 L385.3 678.07 L386.3 678.43 L387.3 678.81 L388.3 679.25 L389.3 679.74 L390.3 680.26 L391.3 680.8 L392.3 681.33 L393.3 681.85 L394.3 682.35 L395.3 682.8 L396.3 683.19 L397.3 683.51 L398.3 683.74 L399.3 683.92 L400.3 684.09 L401.3 684.23 L402.3 684.35 L403.3 684.45 L404.3 684.54 L405.3 684.61 L406.3 684.67 L407.3 684.71 L408.3 684.75 L409.3 684.78 L410.3 684.82 L411.3 684.86 L412.3 684.92 L413.3 684.99 L414.3 685.08 L415.3 685.19 L416.3 685.57 L417.3 686.32 L418.3 686.96 L419.3 687.14 L420.3 687.21 L421.3 687.25 L422.3 687.28 L423.3 687.3 L424.3 687.32 L425.3 687.35 L426.3 687.38 L427.3 687.44 L428.3 687.53 L429.3 687.94 L430.3 688.63 L431.3 689.38 L432.3 689.93 L433.3 690.19 L434.3 690.34 L435.3 690.46 L436.3 690.63 L437.3 690.92 L438.3 692.52 L439.3 693.1 L440.3 693.1 L441.3 693.1 L442.3 693.1 L443.3 693.1 L444.3 693.1 L445.3 693.1 L446.3 693.1 L447.3 693.1 L448.3 693.1 L449.3 693.1 L450.3 693.1 L451.3 693.1 L452.3 693.1 L453.3 693.1 L454.3 693.1 L455.3 693.1 L456.3 693.1 L457.3 693.1 L458.3 693.1 L458.4 693.1 L458.4 695.6 L462.6 695.9 L462.6 700 L488.75 700" fill="none" stroke="#40a042" stroke-width="1.6" stroke-linejoin="round"/>
<path d="M100.3 504.4 L101.3 505.72 L102.3 507.03 L103.3 508.34 L104.3 509.63 L105.3 510.93 L106.3 512.31 L107.3 513.71 L108.3 514.99 L109.3 516.03 L110.3 516.8 L111.3 517.43 L112.3 517.97 L113.3 518.48 L114.3 519.01 L115.3 519.6 L116.3 520.24 L117.3 520.89 L118.3 521.56 L119.3 522.27 L120.3 523.04 L121.3 523.88 L122.3 524.93 L123.3 526.15 L124.3 527.42 L125.3 528.61 L126.3 529.61 L127.3 530.33 L128.3 530.88 L129.3 531.35 L130.3 531.79 L131.3 532.23 L132.3 532.73 L133.3 533.32 L134.3 533.98 L135.3 534.67 L136.3 535.39 L137.3 536.12 L138.3 536.83 L139.3 537.55 L140.3 538.29 L141.3 539.03 L142.3 539.76 L143.3 540.44 L144.3 541.06 L145.3 541.58 L146.3 542.03 L147.3 542.45 L148.3 542.87 L149.3 543.33 L150.3 543.88 L151.3 544.55 L152.3 545.53 L153.3 546.75 L154.3 548 L155.3 549.12 L156.3 550.24 L157.3 551.3 L158.3 552.16 L159.3 552.78 L160.3 553.29 L161.3 553.74 L162.3 554.13 L163.3 554.51 L164.3 554.88 L165.3 555.27 L166.3 555.71 L167.3 556.19 L168.3 556.68 L169.3 557.18 L170.3 557.68 L171.3 558.2 L172.3 558.73 L173.3 559.27 L174.3 559.83 L175.3 560.4 L176.3 560.99 L177.3 561.6 L178.3 562.23 L179.3 562.91 L180.3 563.65 L181.3 564.44 L182.3 565.26 L183.3 566.09 L184.3 566.92 L185.3 567.75 L186.3 568.54 L187.3 569.3 L188.3 570 L189.3 570.63 L190.3 571.18 L191.3 571.68 L192.3 572.13 L193.3 572.55 L194.3 572.94 L195.3 573.33 L196.3 573.72 L197.3 574.12 L198.3 574.54 L199.3 575 L200.3 575.5 L201.3 576.06 L202.3 576.72 L203.3 577.48 L204.3 578.32 L205.3 579.2 L206.3 580.1 L207.3 580.99 L208.3 581.83 L209.3 582.61 L210.3 583.3 L211.3 583.92 L212.3 584.51 L213.3 585.07 L214.3 585.61 L215.3 586.13 L216.3 586.65 L217.3 587.16 L218.3 587.67 L219.3 588.19 L220.3 588.73 L221.3 589.29 L222.3 589.86 L223.3 590.44 L224.3 591.02 L225.3 591.62 L226.3 592.24 L227.3 592.9 L228.3 593.64 L229.3 594.49 L230.3 595.39 L231.3 596.3 L232.3 597.18 L233.3 597.98 L234.3 598.66 L235.3 599.16 L236.3 599.52 L237.3 599.81 L238.3 600.06 L239.3 600.28 L240.3 600.48 L241.3 600.68 L242.3 600.89 L243.3 601.13 L244.3 601.41 L245.3 601.73 L246.3 602.1 L247.3 602.5 L248.3 602.93 L249.3 603.38 L250.3 603.85 L251.3 604.33 L252.3 604.82 L253.3 605.31 L254.3 605.8 L255.3 606.28 L256.3 606.75 L257.3 607.21 L258.3 607.67 L259.3 608.14 L260.3 608.61 L261.3 609.08 L262.3 609.55 L263.3 610.01 L264.3 610.48 L265.3 610.94 L266.3 611.4 L267.3 611.86 L268.3 612.32 L269.3 612.79 L270.3 613.25 L271.3 613.7 L272.3 614.16 L273.3 614.61 L274.3 615.05 L275.3 615.49 L276.3 615.92 L277.3 616.34 L278.3 616.75 L279.3 617.16 L280.3 617.57 L281.3 617.97 L282.3 618.37 L283.3 618.76 L284.3 619.15 L285.3 619.54 L286.3 619.92 L287.3 620.3 L288.3 620.67 L289.3 621.02 L290.3 621.35 L291.3 621.66 L292.3 621.97 L293.3 622.31 L294.3 622.67 L295.3 623.08 L296.3 623.55 L297.3 624.18 L298.3 624.95 L299.3 625.77 L300.3 626.56 L301.3 627.22 L302.3 627.85 L303.3 628.46 L304.3 629.04 L305.3 629.62 L306.3 630.17 L307.3 630.71 L308.3 631.24 L309.3 631.75 L310.3 632.26 L311.3 632.75 L312.3 633.22 L313.3 633.67 L314.3 634.1 L315.3 634.52 L316.3 634.93 L317.3 635.36 L318.3 635.79 L319.3 636.25 L320.3 636.76 L321.3 637.32 L322.3 637.9 L323.3 638.48 L324.3 639.01 L325.3 639.48 L326.3 639.84 L327.3 640.08 L328.3 640.27 L329.3 640.42 L330.3 640.55 L331.3 640.67 L332.3 640.77 L333.3 640.87 L334.3 640.98 L335.3 641.1 L336.3 641.24 L337.3 641.4 L338.3 641.59 L339.3 641.8 L340.3 642.04 L341.3 642.29 L342.3 642.56 L343.3 642.85 L344.3 643.15 L345.3 643.47 L346.3 643.82 L347.3 644.22 L348.3 644.66 L349.3 645.12 L350.3 645.6 L351.3 646.08 L352.3 646.55 L353.3 646.99 L354.3 647.39 L355.3 647.74 L356.3 648.06 L357.3 648.35 L358.3 648.63 L359.3 648.89 L360.3 649.15 L361.3 649.41 L362.3 649.68 L363.3 649.98 L364.3 650.3 L365.3 650.65 L366.3 651.04 L367.3 651.53 L368.3 652.13 L369.3 652.8 L370.3 653.51 L371.3 654.24 L372.3 654.95 L373.3 655.61 L374.3 656.19 L375.3 656.66 L376.3 657.06 L377.3 657.45 L378.3 657.8 L379.3 658.08 L380.3 658.26 L381.3 658.32 L382.3 658.36 L383.3 658.38 L384.3 658.4 L385.3 658.42 L386.3 658.43 L387.3 658.44 L388.3 658.45 L389.3 658.45 L390.3 658.46 L391.3 658.48 L392.3 658.49 L393.3 658.51 L394.3 658.54 L395.3 658.58 L396.3 658.66 L397.3 658.99 L398.3 659.5 L399.3 660.06 L400.3 660.56 L401.3 660.95 L402.3 661.3 L403.3 661.65 L404.3 662.01 L405.3 662.44 L406.3 662.96 L407.3 663.77 L408.3 664.76 L409.3 665.62 L410.3 666.15 L411.3 666.59 L412.3 666.96 L413.3 667.28 L414.3 667.59 L415.3 667.89 L416.3 668.2 L417.3 668.55 L418.3 668.97 L419.3 669.49 L420.3 669.96 L421.3 670.21 L422.3 670.31 L423.3 670.37 L424.3 670.41 L425.3 670.46 L426.3 670.54 L427.3 670.69 L428.3 671.06 L429.3 671.25 L430.3 671.25 L431.3 671.25 L432.3 671.25 L433.3 671.25 L434.3 671.25 L435.3 671.25 L436.3 671.25 L437.3 671.25 L438.3 671.25 L439.3 671.25 L440.3 671.25 L441.3 671.25 L442.3 671.25 L443.3 671.25 L444 671.25 L444 673.1 L446.25 673.1 L446.25 675.25 L466.25 675.25 L466.25 679.4 L488.75 679.4" fill="none" stroke="#eb9a2c" stroke-width="1.6" stroke-linejoin="round"/>
<path d="M100.3 504.4 L101.3 505.56 L102.3 506.66 L103.3 507.69 L104.3 508.66 L105.3 509.55 L106.3 510.36 L107.3 511.11 L108.3 511.84 L109.3 512.56 L110.3 513.28 L111.3 513.99 L112.3 514.69 L113.3 515.38 L114.3 516.05 L115.3 516.7 L116.3 517.33 L117.3 517.94 L118.3 518.53 L119.3 519.12 L120.3 519.72 L121.3 520.32 L122.3 520.94 L123.3 521.55 L124.3 522.17 L125.3 522.79 L126.3 523.4 L127.3 524 L128.3 524.6 L129.3 525.21 L130.3 525.8 L131.3 526.38 L132.3 526.94 L133.3 527.47 L134.3 527.97 L135.3 528.45 L136.3 528.93 L137.3 529.42 L138.3 529.95 L139.3 530.5 L140.3 531.06 L141.3 531.65 L142.3 532.25 L143.3 532.89 L144.3 533.57 L145.3 534.35 L146.3 535.23 L147.3 536.13 L148.3 536.99 L149.3 537.74 L150.3 538.31 L151.3 538.75 L152.3 539.14 L153.3 539.5 L154.3 539.89 L155.3 540.35 L156.3 540.86 L157.3 541.41 L158.3 541.99 L159.3 542.6 L160.3 543.22 L161.3 543.86 L162.3 544.5 L163.3 545.14 L164.3 545.77 L165.3 546.39 L166.3 546.98 L167.3 547.56 L168.3 548.13 L169.3 548.7 L170.3 549.26 L171.3 549.82 L172.3 550.38 L173.3 550.93 L174.3 551.47 L175.3 552.01 L176.3 552.55 L177.3 553.08 L178.3 553.6 L179.3 554.12 L180.3 554.62 L181.3 555.11 L182.3 555.6 L183.3 556.08 L184.3 556.57 L185.3 557.05 L186.3 557.54 L187.3 558.03 L188.3 558.53 L189.3 559.04 L190.3 559.57 L191.3 560.1 L192.3 560.65 L193.3 561.2 L194.3 561.76 L195.3 562.32 L196.3 562.89 L197.3 563.45 L198.3 564.01 L199.3 564.56 L200.3 565.11 L201.3 565.65 L202.3 566.19 L203.3 566.72 L204.3 567.26 L205.3 567.79 L206.3 568.31 L207.3 568.83 L208.3 569.34 L209.3 569.85 L210.3 570.35 L211.3 570.84 L212.3 571.31 L213.3 571.79 L214.3 572.25 L215.3 572.71 L216.3 573.17 L217.3 573.63 L218.3 574.09 L219.3 574.56 L220.3 575.03 L221.3 575.5 L222.3 575.99 L223.3 576.48 L224.3 576.97 L225.3 577.46 L226.3 577.96 L227.3 578.46 L228.3 578.95 L229.3 579.45 L230.3 579.95 L231.3 580.43 L232.3 580.92 L233.3 581.4 L234.3 581.89 L235.3 582.38 L236.3 582.88 L237.3 583.4 L238.3 583.93 L239.3 584.48 L240.3 585.08 L241.3 585.7 L242.3 586.33 L243.3 586.94 L244.3 587.53 L245.3 588.08 L246.3 588.62 L247.3 589.14 L248.3 589.64 L249.3 590.14 L250.3 590.63 L251.3 591.12 L252.3 591.6 L253.3 592.09 L254.3 592.57 L255.3 593.06 L256.3 593.55 L257.3 594.05 L258.3 594.57 L259.3 595.07 L260.3 595.57 L261.3 596.04 L262.3 596.47 L263.3 596.89 L264.3 597.27 L265.3 597.59 L266.3 597.85 L267.3 598.08 L268.3 598.28 L269.3 598.49 L270.3 598.72 L271.3 599 L272.3 599.36 L273.3 599.9 L274.3 600.55 L275.3 601.22 L276.3 601.8 L277.3 602.27 L278.3 602.7 L279.3 603.12 L280.3 603.51 L281.3 603.89 L282.3 604.25 L283.3 604.6 L284.3 604.95 L285.3 605.28 L286.3 605.61 L287.3 605.94 L288.3 606.27 L289.3 606.59 L290.3 606.91 L291.3 607.21 L292.3 607.52 L293.3 607.82 L294.3 608.11 L295.3 608.4 L296.3 608.68 L297.3 608.96 L298.3 609.24 L299.3 609.52 L300.3 609.78 L301.3 610.02 L302.3 610.26 L303.3 610.53 L304.3 610.83 L305.3 611.21 L306.3 611.64 L307.3 612.12 L308.3 612.63 L309.3 613.17 L310.3 613.71 L311.3 614.25 L312.3 614.82 L313.3 615.42 L314.3 616.04 L315.3 616.67 L316.3 617.28 L317.3 617.87 L318.3 618.4 L319.3 618.91 L320.3 619.41 L321.3 619.89 L322.3 620.35 L323.3 620.79 L324.3 621.21 L325.3 621.62 L326.3 621.99 L327.3 622.34 L328.3 622.67 L329.3 623.01 L330.3 623.35 L331.3 623.72 L332.3 624.12 L333.3 624.55 L334.3 625 L335.3 625.46 L336.3 625.92 L337.3 626.37 L338.3 626.81 L339.3 627.22 L340.3 627.62 L341.3 628 L342.3 628.38 L343.3 628.75 L344.3 629.12 L345.3 629.49 L346.3 629.86 L347.3 630.23 L348.3 630.61 L349.3 631 L350.3 631.41 L351.3 631.83 L352.3 632.25 L353.3 632.65 L354.3 633 L355.3 633.31 L356.3 633.59 L357.3 633.85 L358.3 634.08 L359.3 634.31 L360.3 634.52 L361.3 634.74 L362.3 634.97 L363.3 635.2 L364.3 635.45 L365.3 635.73 L366.3 636.03 L367.3 636.4 L368.3 636.83 L369.3 637.29 L370.3 637.73 L371.3 638.11 L372.3 638.41 L373.3 638.66 L374.3 638.89 L375.3 639.1 L376.3 639.29 L377.3 639.48 L378.3 639.67 L379.3 639.86 L380.3 640.06 L381.3 640.26 L382.3 640.46 L383.3 640.66 L384.3 640.86 L385.3 641.06 L386.3 641.26 L387.3 641.46 L388.3 641.65 L389.3 641.84 L390.3 642.03 L391.3 642.21 L392.3 642.4 L393.3 642.6 L394.3 642.81 L395.3 643.04 L396.3 643.29 L397.3 643.56 L398.3 643.87 L399.3 644.31 L400.3 644.85 L401.3 645.38 L402.3 645.79 L403.3 646.03 L404.3 646.21 L405.3 646.38 L406.3 646.53 L407.3 646.66 L408.3 646.78 L409.3 646.89 L410.3 646.99 L411.3 647.09 L412.3 647.18 L413.3 647.28 L414.3 647.38 L415.3 647.49 L416.3 647.61 L417.3 647.73 L418.3 647.86 L419.3 647.98 L420.3 648.11 L421.3 648.23 L422.3 648.35 L423.3 648.45 L424.3 648.54 L425.3 648.62 L426.3 648.68 L427.3 648.71 L428.3 648.75 L429.3 648.78 L430.3 648.81 L431.3 648.84 L432.3 648.86 L433.3 648.89 L434.3 648.91 L435.3 648.93 L436.3 648.95 L437.3 648.97 L438.3 648.98 L439.3 648.99 L440.3 649 L441.3 649 L442 649 L442 650.25 L488.75 650.25" fill="none" stroke="#a8163c" stroke-width="1.6" stroke-linejoin="round"/>
<text x="101" y="750.6" font-size="9.3" fill="#333333" stroke="#333333" stroke-width="0.12"><tspan font-style="italic">P</tspan> &lt; .001</text>
<rect x="243.5" y="492.9" width="175" height="71.5" fill="#fff" stroke="#111" stroke-width="1.3"/>
<line x1="243.5" y1="509.9" x2="418.5" y2="509.9" stroke="#111" stroke-width="1.3"/>
<line x1="243.5" y1="527.8" x2="418.5" y2="527.8" stroke="#111" stroke-width="1.3"/>
<line x1="243.5" y1="544.4" x2="418.5" y2="544.4" stroke="#111" stroke-width="1.3"/>
<line x1="312.5" y1="492.9" x2="312.5" y2="564.4" stroke="#111" stroke-width="1.3"/>
<text transform="translate(248.3 506.2) scale(0.94 1)" font-size="9.9" fill="#333333" stroke="#333333" stroke-width="0.12">ALC Category</text>
<text transform="translate(316.8 506.2) scale(0.93 1)" font-size="9.9" fill="#333333" stroke="#333333" stroke-width="0.12">Median Survival (Years)</text>
<text x="248.5" y="522.9" font-size="9.5" fill="#333333" stroke="#333333" stroke-width="0.12">Normal</text>
<text x="316.8" y="522.9" font-size="9.5" fill="#333333" stroke="#333333" stroke-width="0.12">4.9</text>
<text x="248.5" y="539" font-size="9.5" fill="#333333" stroke="#333333" stroke-width="0.12">Low</text>
<text x="316.8" y="539" font-size="9.5" fill="#333333" stroke="#333333" stroke-width="0.12">4.1</text>
<text x="248.5" y="558.3" font-size="9.5" fill="#333333" stroke="#333333" stroke-width="0.12">Severely Low</text>
<text x="316.8" y="558.3" font-size="9.5" fill="#333333" stroke="#333333" stroke-width="0.12">3.3</text>
<text x="80.6" y="812.8" font-size="9" fill="#111" stroke="#111" stroke-width="0.12">Number at risk</text>
<line x1="80.5" y1="820.2" x2="80.5" y2="880.4" stroke="#000" stroke-width="1.4"/>
<line x1="79.8" y1="879.8" x2="510" y2="879.8" stroke="#000" stroke-width="1.4"/>
<line x1="75.6" y1="831.4" x2="80.5" y2="831.4" stroke="#333" stroke-width="1.2"/>
<text x="71.6" y="834.6" font-size="9.3" text-anchor="end" fill="#a8163c" stroke="#a8163c" stroke-width="0.12">Normal</text>
<text x="99.5" y="834.7" font-size="9.8" text-anchor="middle" fill="#111" stroke="#111" stroke-width="0.12">2862</text>
<text x="148.31" y="834.7" font-size="9.8" text-anchor="middle" fill="#111" stroke="#111" stroke-width="0.12">2100</text>
<text x="197.12" y="834.7" font-size="9.8" text-anchor="middle" fill="#111" stroke="#111" stroke-width="0.12">1517</text>
<text x="245.93" y="834.7" font-size="9.8" text-anchor="middle" fill="#111" stroke="#111" stroke-width="0.12">1043</text>
<text x="294.74" y="834.7" font-size="9.8" text-anchor="middle" fill="#111" stroke="#111" stroke-width="0.12">713</text>
<text x="343.55" y="834.7" font-size="9.8" text-anchor="middle" fill="#111" stroke="#111" stroke-width="0.12">437</text>
<text x="392.36" y="834.7" font-size="9.8" text-anchor="middle" fill="#111" stroke="#111" stroke-width="0.12">231</text>
<text x="441.17" y="834.7" font-size="9.8" text-anchor="middle" fill="#111" stroke="#111" stroke-width="0.12">91</text>
<text x="489.98" y="834.7" font-size="9.8" text-anchor="middle" fill="#111" stroke="#111" stroke-width="0.12">0</text>
<line x1="75.6" y1="849.7" x2="80.5" y2="849.7" stroke="#333" stroke-width="1.2"/>
<text x="71.6" y="852.9" font-size="9.3" text-anchor="end" fill="#eb9a2c" stroke="#eb9a2c" stroke-width="0.12">Low</text>
<text x="99.5" y="853" font-size="9.8" text-anchor="middle" fill="#111" stroke="#111" stroke-width="0.12">1716</text>
<text x="148.31" y="853" font-size="9.8" text-anchor="middle" fill="#111" stroke="#111" stroke-width="0.12">1218</text>
<text x="197.12" y="853" font-size="9.8" text-anchor="middle" fill="#111" stroke="#111" stroke-width="0.12">848</text>
<text x="245.93" y="853" font-size="9.8" text-anchor="middle" fill="#111" stroke="#111" stroke-width="0.12">572</text>
<text x="294.74" y="853" font-size="9.8" text-anchor="middle" fill="#111" stroke="#111" stroke-width="0.12">363</text>
<text x="343.55" y="853" font-size="9.8" text-anchor="middle" fill="#111" stroke="#111" stroke-width="0.12">220</text>
<text x="392.36" y="853" font-size="9.8" text-anchor="middle" fill="#111" stroke="#111" stroke-width="0.12">113</text>
<text x="441.17" y="853" font-size="9.8" text-anchor="middle" fill="#111" stroke="#111" stroke-width="0.12">42</text>
<text x="489.98" y="853" font-size="9.8" text-anchor="middle" fill="#111" stroke="#111" stroke-width="0.12">0</text>
<line x1="75.6" y1="868.4" x2="80.5" y2="868.4" stroke="#333" stroke-width="1.2"/>
<text x="71.6" y="871.6" font-size="9.3" text-anchor="end" fill="#40a042" stroke="#40a042" stroke-width="0.12">Severe_low</text>
<text x="99.5" y="871.7" font-size="9.8" text-anchor="middle" fill="#111" stroke="#111" stroke-width="0.12">1420</text>
<text x="148.31" y="871.7" font-size="9.8" text-anchor="middle" fill="#111" stroke="#111" stroke-width="0.12">941</text>
<text x="197.12" y="871.7" font-size="9.8" text-anchor="middle" fill="#111" stroke="#111" stroke-width="0.12">657</text>
<text x="245.93" y="871.7" font-size="9.8" text-anchor="middle" fill="#111" stroke="#111" stroke-width="0.12">438</text>
<text x="294.74" y="871.7" font-size="9.8" text-anchor="middle" fill="#111" stroke="#111" stroke-width="0.12">260</text>
<text x="343.55" y="871.7" font-size="9.8" text-anchor="middle" fill="#111" stroke="#111" stroke-width="0.12">155</text>
<text x="392.36" y="871.7" font-size="9.8" text-anchor="middle" fill="#111" stroke="#111" stroke-width="0.12">81</text>
<text x="441.17" y="871.7" font-size="9.8" text-anchor="middle" fill="#111" stroke="#111" stroke-width="0.12">26</text>
<text x="489.98" y="871.7" font-size="9.8" text-anchor="middle" fill="#111" stroke="#111" stroke-width="0.12">0</text>
<line x1="99.5" y1="879.8" x2="99.5" y2="884.2" stroke="#333" stroke-width="1.2"/>
<text x="99.5" y="897.3" font-size="10" text-anchor="middle" fill="#333333" stroke="#333333" stroke-width="0.12">0</text>
<line x1="148.31" y1="879.8" x2="148.31" y2="884.2" stroke="#333" stroke-width="1.2"/>
<text x="148.31" y="897.3" font-size="10" text-anchor="middle" fill="#333333" stroke="#333333" stroke-width="0.12">1</text>
<line x1="197.12" y1="879.8" x2="197.12" y2="884.2" stroke="#333" stroke-width="1.2"/>
<text x="197.12" y="897.3" font-size="10" text-anchor="middle" fill="#333333" stroke="#333333" stroke-width="0.12">2</text>
<line x1="245.93" y1="879.8" x2="245.93" y2="884.2" stroke="#333" stroke-width="1.2"/>
<text x="245.93" y="897.3" font-size="10" text-anchor="middle" fill="#333333" stroke="#333333" stroke-width="0.12">3</text>
<line x1="294.74" y1="879.8" x2="294.74" y2="884.2" stroke="#333" stroke-width="1.2"/>
<text x="294.74" y="897.3" font-size="10" text-anchor="middle" fill="#333333" stroke="#333333" stroke-width="0.12">4</text>
<line x1="343.55" y1="879.8" x2="343.55" y2="884.2" stroke="#333" stroke-width="1.2"/>
<text x="343.55" y="897.3" font-size="10" text-anchor="middle" fill="#333333" stroke="#333333" stroke-width="0.12">5</text>
<line x1="392.36" y1="879.8" x2="392.36" y2="884.2" stroke="#333" stroke-width="1.2"/>
<text x="392.36" y="897.3" font-size="10" text-anchor="middle" fill="#333333" stroke="#333333" stroke-width="0.12">6</text>
<line x1="441.17" y1="879.8" x2="441.17" y2="884.2" stroke="#333" stroke-width="1.2"/>
<text x="441.17" y="897.3" font-size="10" text-anchor="middle" fill="#333333" stroke="#333333" stroke-width="0.12">7</text>
<line x1="489.98" y1="879.8" x2="489.98" y2="884.2" stroke="#333" stroke-width="1.2"/>
<text x="489.98" y="897.3" font-size="10" text-anchor="middle" fill="#333333" stroke="#333333" stroke-width="0.12">8</text>
<text transform="translate(295.4 914.9) scale(0.64 1)" font-size="13" text-anchor="middle" fill="#111" stroke="#111" stroke-width="0.55">Time</text>
<text transform="translate(20.8 850.4) rotate(-90) scale(0.68 1)" font-size="13" text-anchor="middle" fill="#111" stroke="#111" stroke-width="0.7">ALC at baseline</text>
<text x="178" y="931.2" font-size="9.2" fill="#111" stroke="#111" stroke-width="0.12">ALC at baseline</text>
<line x1="248" y1="928" x2="260.2" y2="928" stroke="#a8163c" stroke-width="1.5"/>
<text x="265.5" y="931.2" font-size="9.2" fill="#111" stroke="#111" stroke-width="0.12">Normal</text>
<line x1="304" y1="928" x2="316.2" y2="928" stroke="#eb9a2c" stroke-width="1.5"/>
<text x="321.2" y="931.2" font-size="9.2" fill="#111" stroke="#111" stroke-width="0.12">Low</text>
<line x1="347.5" y1="928" x2="359.7" y2="928" stroke="#40a042" stroke-width="1.5"/>
<text x="365" y="931.2" font-size="9.2" fill="#111" stroke="#111" stroke-width="0.12">Severe_low</text>
<rect x="0" y="0" width="520" height="1" fill="#252525"/>
<rect x="0" y="0" width="1.1" height="943" fill="#2a2a2a"/>
<rect x="518.7" y="0" width="1.3" height="943" fill="#2a2a2a"/>
<rect x="0" y="941.7" width="520" height="1.3" fill="#252525"/>
</svg>
</body></html>
